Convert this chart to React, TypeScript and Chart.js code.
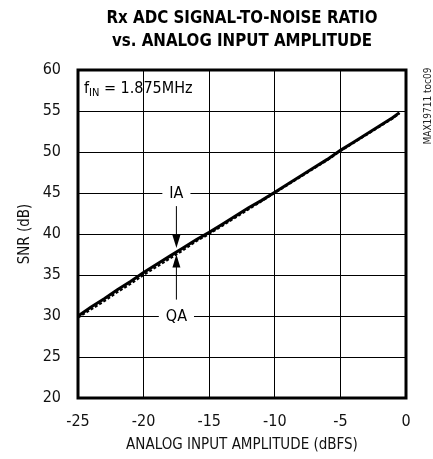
import React, { useEffect, useRef } from "react";
import { Chart, registerables } from "chart.js";

Chart.register(...registerables);

const xValues = [-25, -24, -23, -22, -21, -20, -19, -18, -17, -16, -15, -14, -13, -12, -11, -10, -9, -8, -7, -6, -5, -4, -3, -2, -1, -0.5];
const iaValues = [30.0, 31.1, 32.1, 33.2, 34.2, 35.3, 36.3, 37.3, 38.3, 39.3, 40.2, 41.2, 42.2, 43.2, 44.1, 45.1, 46.1, 47.1, 48.1, 49.1, 50.2, 51.2, 52.2, 53.2, 54.2, 54.8];
const qaValues = [29.8, 30.8, 31.8, 32.9, 33.9, 35.0, 36.0, 37.0, 38.0, 39.1, 40.0, 41.0, 42.0, 43.0, 44.0, 45.0, 46.0, 47.0, 48.0, 49.0, 50.1, 51.1, 52.1, 53.1, 54.1, 54.7];
const xTicks = [-25, -20, -15, -10, -5, 0];
const yTicks = [20, 25, 30, 35, 40, 45, 50, 55, 60];
const titleLines = ["Rx ADC SIGNAL-TO-NOISE RATIO", "vs. ANALOG INPUT AMPLITUDE"];

const NARROW = "'Liberation Sans Narrow', 'DejaVu Sans Condensed', 'Liberation Sans', sans-serif";

const overlay = {
  id: "overlay",
  afterDraw(chart: any) {
    const ctx = chart.ctx;
    const { left, right, top, bottom } = chart.chartArea;
    const xs = chart.scales.x;
    const ys = chart.scales.y;
    ctx.save();
    // title
    ctx.fillStyle = "#000";
    ctx.font = `bold 18px ${NARROW}`;
    ctx.textAlign = "center";
    ctx.textBaseline = "middle";
    const drawTitle = (t: string, y: number, targetW: number) => {
      const w = ctx.measureText(t).width;
      const k = targetW / w;
      ctx.save();
      ctx.translate(242, y);
      ctx.scale(k, 1);
      ctx.fillText(t, 0, 0);
      ctx.restore();
    };
    drawTitle(titleLines[0], 18, 271);
    drawTitle(titleLines[1], 41, 260);

    // labels IA / QA with white gaps
    const lx = xs.getPixelForValue(-17.5);
    ctx.font = `16px ${NARROW}`;
    const drawLabel = (t: string, v: number) => {
      const y = ys.getPixelForValue(v);
      const w = ctx.measureText(t).width;
      ctx.fillStyle = "#fff";
      ctx.fillRect(lx - w / 2 - 7, y - 3, w + 14, 6);
      ctx.fillStyle = "#000";
      ctx.fillText(t, lx, y + 1);
    };
    drawLabel("IA", 45);
    drawLabel("QA", 30);

    // arrows
    ctx.strokeStyle = "#000";
    ctx.lineWidth = 1;
    const arrow = (fromV: number, tipV: number) => {
      const y0 = ys.getPixelForValue(fromV);
      const yt = ys.getPixelForValue(tipV);
      const dir = yt > y0 ? 1 : -1;
      ctx.beginPath();
      ctx.moveTo(lx, y0);
      ctx.lineTo(lx, yt - dir * 10);
      ctx.stroke();
      ctx.beginPath();
      ctx.moveTo(lx, yt);
      ctx.lineTo(lx - 4, yt - dir * 13);
      ctx.lineTo(lx + 4, yt - dir * 13);
      ctx.closePath();
      ctx.fill();
    };
    arrow(43.4, 38.3);
    arrow(32.0, 37.5);

    // fIN annotation
    ctx.textAlign = "left";
    ctx.textBaseline = "alphabetic";
    let px = 84;
    const py = 93;
    ctx.font = `16px ${NARROW}`;
    ctx.fillText("f", px, py);
    px += ctx.measureText("f").width;
    ctx.font = `11px ${NARROW}`;
    ctx.fillText("IN", px, py + 3);
    px += ctx.measureText("IN").width;
    ctx.font = `16px ${NARROW}`;
    ctx.fillText(" = 1.875MHz", px, py);

    // side code
    ctx.save();
    ctx.translate(428, 106);
    ctx.rotate(-Math.PI / 2);
    ctx.font = `10px ${NARROW}`;
    ctx.textAlign = "center";
    ctx.textBaseline = "middle";
    ctx.fillStyle = "#222";
    ctx.fillText("MAX19711 toc09", 0, 0);
    ctx.restore();

    // border
    ctx.strokeStyle = "#000";
    ctx.lineWidth = 3;
    ctx.strokeRect(left, top, right - left, bottom - top);
    ctx.restore();
  },
};

export default function App() {
  const ref = useRef<HTMLCanvasElement>(null);
  useEffect(() => {
    document.body.style.margin = "0";
    const chart = new Chart(ref.current!, {
      type: "line",
      data: {
        datasets: [
          {
            label: "QA",
            data: xValues.map((x, i) => ({ x, y: qaValues[i] })),
            borderColor: "#000",
            borderWidth: 2,
            borderDash: [3, 2],
            pointRadius: 0,
            tension: 0,
          },
          {
            label: "IA",
            data: xValues.map((x, i) => ({ x, y: iaValues[i] })),
            borderColor: "#000",
            borderWidth: 3,
            pointRadius: 0,
            tension: 0,
          },
        ],
      },
      options: {
        responsive: false,
        animation: false,
        devicePixelRatio: 1,
        layout: { padding: { top: 70, right: 27, left: 0, bottom: 0 } },
        plugins: { legend: { display: false }, tooltip: { enabled: false }, title: { display: false } },
        scales: {
          x: {
            type: "linear",
            min: -25,
            max: 0,
            afterBuildTicks: (s: any) => { s.ticks = xTicks.map((v) => ({ value: v })); },
            afterFit: (s: any) => { s.height = 61; },
            grid: { color: "#000", lineWidth: 1, drawTicks: false },
            border: { display: false },
            ticks: { color: "#111", font: { family: NARROW, size: 16 }, padding: 14, maxRotation: 0 },
            title: { display: true, text: "ANALOG INPUT AMPLITUDE (dBFS)", color: "#111", font: { family: NARROW, size: 15 }, padding: { top: 4, bottom: 5 } },
          },
          y: {
            type: "linear",
            min: 20,
            max: 60,
            afterBuildTicks: (s: any) => { s.ticks = yTicks.map((v) => ({ value: v })); },
            afterFit: (s: any) => { s.width = 78; },
            grid: { color: "#000", lineWidth: 1, drawTicks: false },
            border: { display: false },
            ticks: { color: "#111", font: { family: NARROW, size: 16 }, padding: 17 },
            title: { display: true, text: "SNR (dB)", color: "#111", font: { family: NARROW, size: 15 }, padding: { top: 16, bottom: 8 } },
          },
        },
      },
      plugins: [overlay],
    } as any);
    return () => chart.destroy();
  }, []);
  return <canvas ref={ref} width={433} height={459} style={{ display: "block" }} />;
}
